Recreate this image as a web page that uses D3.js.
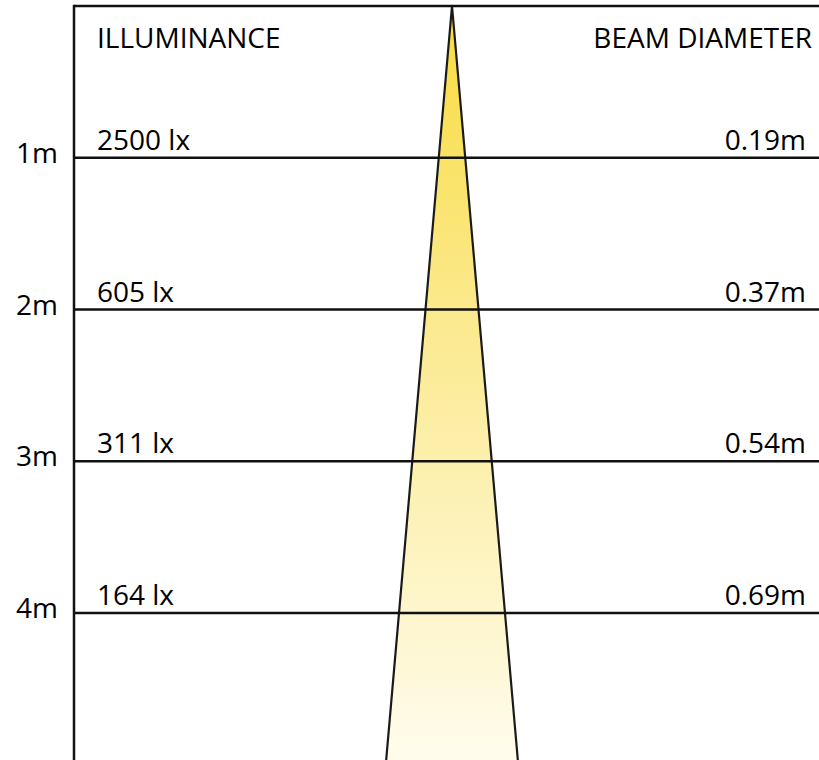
<!DOCTYPE html>
<html>
<head>
<meta charset="utf-8">
<script src="https://cdn.jsdelivr.net/npm/d3@7"></script>
<style>
  html, body { margin: 0; padding: 0; background: #fff; }
  svg { display: block; }
  text { font-family: "Open Sans", "Noto Sans", sans-serif; fill: #000; }
</style>
</head>
<body>
<svg id="chart" width="819" height="760"></svg>
<script>
// ---- data ----
const distances = [1, 2, 3, 4];                       // metres
const distanceLabels = ["1m", "2m", "3m", "4m"];
const illuminance = ["2500 lx", "605 lx", "311 lx", "164 lx"];
const beamDiameters = [0.19, 0.37, 0.54, 0.69];      // metres
const beamDiameterLabels = ["0.19m", "0.37m", "0.54m", "0.69m"];
const headers = ["ILLUMINANCE", "BEAM DIAMETER"];

// ---- layout ----
const W = 819, H = 760;
const axisX = 74, topY = 6;
const svg = d3.select("#chart");

const y = d3.scaleLinear().domain([0, 4]).range([topY, 613]);
const maxDist = y.invert(H + 2);
// lateral offset (m) -> px, beam centred at 452
const x = d3.scaleLinear().domain([-0.5, 0.5]).range([452 - 76.8, 452 + 76.8]);
// beam spread per metre read from the last measured diameter
const spread = beamDiameters[beamDiameters.length - 1] / distances[distances.length - 1];

// gradient
const defs = svg.append("defs");
const grad = defs.append("linearGradient").attr("id", "beamGrad")
  .attr("gradientUnits", "userSpaceOnUse")
  .attr("x1", 0).attr("y1", topY).attr("x2", 0).attr("y2", H);
grad.append("stop").attr("offset", "0%").attr("stop-color", "#f8dc3e");
grad.append("stop").attr("offset", "40%").attr("stop-color", "#fbe98c");
grad.append("stop").attr("offset", "100%").attr("stop-color", "#fffcec");

// beam
const beamPts = [
  [x(0), y(0)],
  [x(spread * maxDist / 2), y(maxDist)],
  [x(-spread * maxDist / 2), y(maxDist)]
];
svg.append("path")
  .attr("d", d3.line()(beamPts) + "Z")
  .attr("fill", "url(#beamGrad)")
  .attr("stroke", "#1a1a1a")
  .attr("stroke-width", 2.2)
  .attr("stroke-linejoin", "miter");

// frame: top and left
svg.append("line").attr("x1", axisX).attr("x2", W).attr("y1", topY).attr("y2", topY)
  .attr("stroke", "#111").attr("stroke-width", 2.5);
svg.append("line").attr("x1", axisX).attr("x2", axisX).attr("y1", topY - 1.25).attr("y2", H)
  .attr("stroke", "#111").attr("stroke-width", 2.5);

// distance lines
svg.selectAll("line.dist").data(distances).join("line")
  .attr("class", "dist")
  .attr("x1", axisX).attr("x2", W)
  .attr("y1", d => y(d)).attr("y2", d => y(d))
  .attr("stroke", "#111").attr("stroke-width", 2.5);

const fs = 28;
// headers
svg.append("text").attr("x", 97).attr("y", 48).attr("font-size", fs).text(headers[0]);
svg.append("text").attr("x", 812).attr("y", 48).attr("font-size", fs)
  .attr("text-anchor", "end").text(headers[1]);

// distance labels
svg.selectAll("text.dl").data(distances).join("text")
  .attr("class", "dl")
  .attr("x", 58).attr("y", d => y(d) + 5)
  .attr("text-anchor", "end").attr("font-size", fs)
  .text((d, i) => distanceLabels[i]);

// illuminance labels
svg.selectAll("text.il").data(distances).join("text")
  .attr("class", "il")
  .attr("x", 97).attr("y", d => y(d) - 8)
  .attr("font-size", fs)
  .text((d, i) => illuminance[i]);

// beam diameter labels
svg.selectAll("text.bd").data(distances).join("text")
  .attr("class", "bd")
  .attr("x", 806).attr("y", d => y(d) - 8)
  .attr("text-anchor", "end").attr("font-size", fs)
  .text((d, i) => beamDiameterLabels[i]);
</script>
</body>
</html>
